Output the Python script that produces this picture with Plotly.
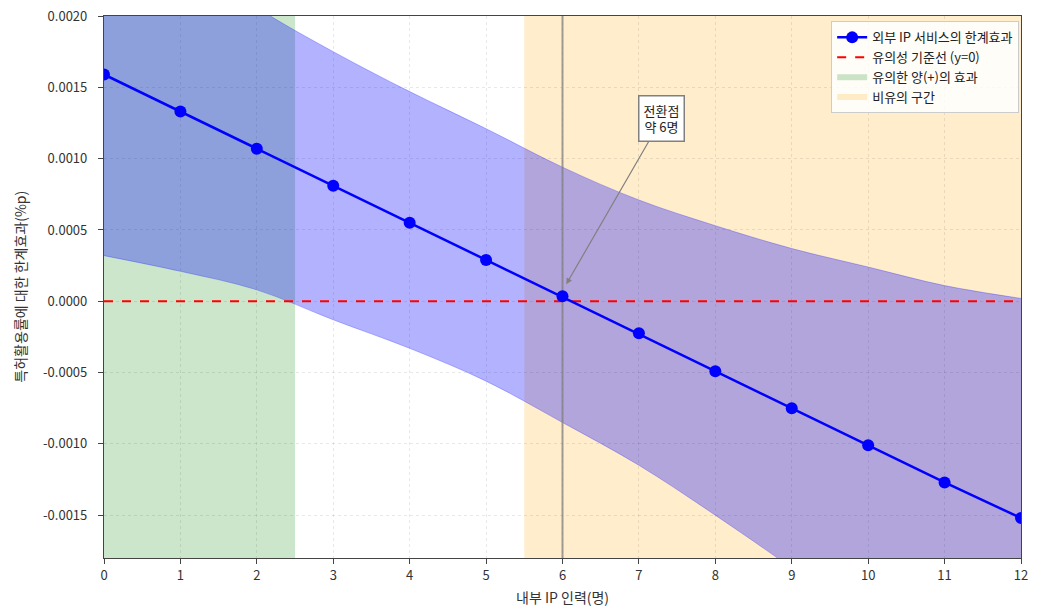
import plotly.graph_objects as go

x_staff = [0, 1, 2, 3, 4, 5, 6, 7, 8, 9, 10, 11, 12]
effect = [0.00159, 0.00133, 0.00107, 0.00081, 0.00055, 0.00029, 0.000035,
          -0.000225, -0.00049, -0.00075, -0.00101, -0.00127, -0.00152]
ci_upper = [0.00286, 0.00245, 0.00206, 0.00175, 0.00147, 0.00121, 0.00094,
            0.00071, 0.00053, 0.00037, 0.00024, 0.00011, 0.00002]
ci_lower = [0.00032, 0.00021, 0.00008, -0.00013, -0.00033, -0.00056, -0.00085,
            -0.00115, -0.00150, -0.00187, -0.00226, -0.00265, -0.00306]
sig_range = [0, 2.5]
nonsig_range = [5.5, 12]
turning_point = 6
y_tick_vals = [-0.0015, -0.0010, -0.0005, 0.0, 0.0005, 0.0010, 0.0015, 0.0020]
y_tick_text = ["-0.0015", "-0.0010", "-0.0005", "0.0000", "0.0005", "0.0010", "0.0015", "0.0020"]
x_title = "내부 IP 인력(명)"
y_title = "특허활용률에 대한 한계효과(%p)"

font = "Noto Sans CJK KR"
fig = go.Figure()

fig.add_vrect(x0=sig_range[0], x1=sig_range[1], fillcolor="rgba(0,128,0,0.2)",
              line_width=0, layer="below")
fig.add_vrect(x0=nonsig_range[0], x1=nonsig_range[1], fillcolor="rgba(255,165,0,0.2)",
              line_width=0, layer="below")

# CI band
fig.add_trace(go.Scatter(x=x_staff, y=ci_lower, mode="lines",
                         line=dict(color="rgba(0,0,255,0.25)", width=1, shape="spline"),
                         showlegend=False, hoverinfo="skip"))
fig.add_trace(go.Scatter(x=x_staff, y=ci_upper, mode="lines", fill="tonexty",
                         fillcolor="rgba(0,0,255,0.3)",
                         line=dict(color="rgba(0,0,255,0.25)", width=1, shape="spline"),
                         showlegend=False, hoverinfo="skip"))

fig.add_trace(go.Scatter(x=[0, 12], y=[0, 0], mode="lines",
                         name="유의성 기준선 (y=0)", legendrank=2,
                         line=dict(color="red", width=2, dash="dash")))

fig.add_trace(go.Scatter(x=[turning_point, turning_point], y=[-0.0018, 0.0021], mode="lines",
                         line=dict(color="rgba(128,128,128,0.75)", width=2),
                         showlegend=False, hoverinfo="skip"))

fig.add_trace(go.Scatter(x=x_staff, y=effect, mode="lines+markers",
                         name="외부 IP 서비스의 한계효과", legendrank=1,
                         line=dict(color="blue", width=2.5),
                         marker=dict(color="blue", size=12)))
fig.add_trace(go.Scatter(x=[None], y=[None], mode="none", fill="toself",
                         fillcolor="rgba(0,128,0,0.2)", name="유의한 양(+)의 효과", legendrank=3))
fig.add_trace(go.Scatter(x=[None], y=[None], mode="none", fill="toself",
                         fillcolor="rgba(255,165,0,0.2)", name="비유의 구간", legendrank=4))

fig.add_annotation(x=6.05, y=0.00012, ax=7.3, ay=0.00128, axref="x", ayref="y",
                   text="전환점<br>약 6명", showarrow=True, arrowhead=2, arrowsize=1,
                   arrowwidth=1.2, arrowcolor="gray",
                   font=dict(family=font, size=13, color="#222"),
                   bgcolor="white", bordercolor="gray", borderwidth=1.5, borderpad=4)

# axis titles as annotations (precise placement)
fig.add_annotation(x=0.5, y=-0.072, xref="paper", yref="paper", text=x_title,
                   showarrow=False, xanchor="center", yanchor="middle",
                   font=dict(family=font, size=14, color="#333"))
fig.add_annotation(x=-0.092, y=0.5, xref="paper", yref="paper", text=y_title,
                   showarrow=False, xanchor="center", yanchor="middle", textangle=-90,
                   font=dict(family=font, size=14, color="#333"))

axis_common = dict(showline=True, linecolor="#444", linewidth=1.2, mirror=True,
                   ticks="outside", ticklen=5, tickcolor="#444",
                   showgrid=True, gridcolor="rgba(0,0,0,0.09)", griddash="dot",
                   zeroline=False, automargin=False, ticklabeloverflow="allow",
                   tickfont=dict(family=font, size=13, color="#333"))

fig.update_layout(
    width=1037, height=598,
    margin=dict(l=96, r=24, t=8, b=48),
    paper_bgcolor="white", plot_bgcolor="white",
    font=dict(family=font),
    xaxis=dict(range=[0, 12], dtick=1, **axis_common),
    yaxis=dict(range=[-0.0018, 0.0020001], tickvals=y_tick_vals, ticktext=y_tick_text,
               ticklabelstandoff=8, **axis_common),
    legend=dict(x=0.998, y=0.99, xanchor="right", yanchor="top", traceorder="normal",
                bgcolor="rgba(255,255,255,0.85)", bordercolor="#ccc", borderwidth=1,
                font=dict(family=font, size=13, color="#222"), tracegroupgap=0),
    showlegend=True,
)

fig.write_html("out.html")
